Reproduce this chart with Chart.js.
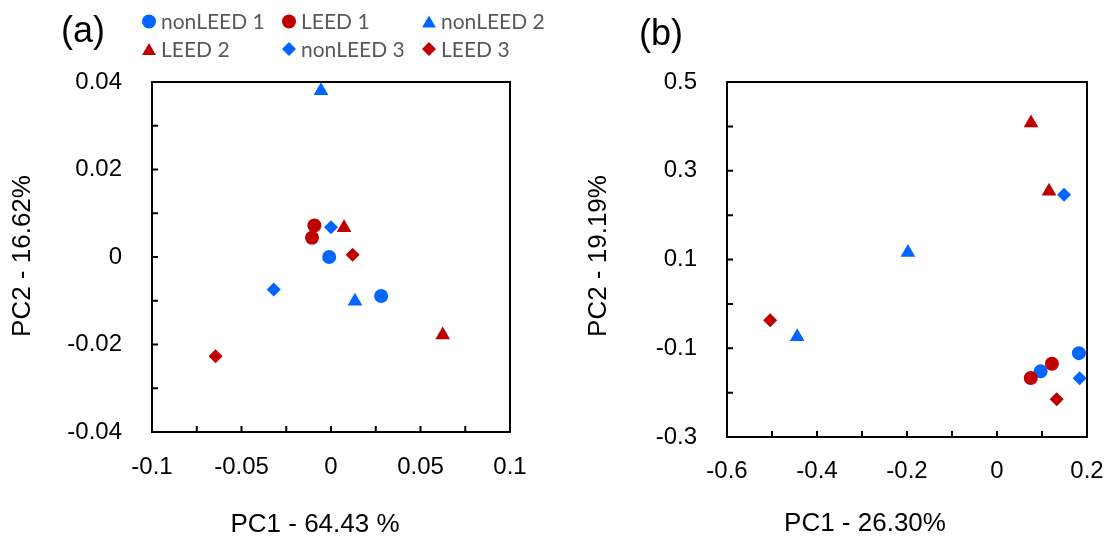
<!DOCTYPE html>
<html>
<head>
<meta charset="utf-8">
<script src="https://cdn.jsdelivr.net/npm/chart.js@4.4.1/dist/chart.umd.min.js"></script>
<style>
  html, body { margin: 0; padding: 0; background: #fff; }
  #wrap { position: relative; width: 1108px; height: 537px; }
  .painel { position: absolute; top: 0; width: 554px; height: 537px; }
</style>
</head>
<body>
<div id="wrap">
  <div class="painel" style="left:0"><canvas id="graficoA"></canvas></div>
  <div class="painel" style="left:554px"><canvas id="graficoB"></canvas></div>
</div>
<script>
const series = ['nonLEED 1', 'LEED 1', 'nonLEED 2', 'LEED 2', 'nonLEED 3', 'LEED 3'];
const coresSerie = ['#0066FF', '#C00000', '#0066FF', '#C00000', '#0066FF', '#C00000'];
const formas = ['circle', 'circle', 'triangle', 'triangle', 'rectRot', 'rectRot'];

// painel (a): PC1 / PC2, dois pontos por serie
const pc1A = [[-0.001, 0.028], [-0.0093, -0.0106], [-0.0056, 0.0134], [0.0073, 0.0624], [0.0, -0.032], [0.0121, -0.0645]];
const pc2A = [[0.0, -0.0089], [0.0072, 0.0044], [0.0380, -0.0101], [0.0067, -0.0178], [0.0068, -0.0074], [0.0005, -0.0227]];

// painel (b)
const pc1B = [[0.182, 0.097], [0.122, 0.075], [-0.198, -0.444], [0.0756, 0.1156], [0.149, 0.1836], [-0.504, 0.1326]];
const pc2B = [[-0.111, -0.152], [-0.135, -0.167], [0.1155, -0.074], [0.4075, 0.254], [0.246, -0.1676], [-0.037, -0.215]];

const rotulosXA = [-0.1, -0.05, 0, 0.05, 0.1];
const rotulosYA = [-0.04, -0.02, 0, 0.02, 0.04];
const rotulosXB = [-0.6, -0.4, -0.2, 0, 0.2];
const rotulosYB = [-0.3, -0.1, 0.1, 0.3, 0.5];

const FONTE = "'Liberation Sans', Arial, sans-serif";

function raioPorForma(f) {
  if (f === 'triangle') return 8.5;
  return 7;
}

function montarDatasets(pc1, pc2) {
  return series.map((nome, i) => ({
    label: nome,
    data: pc1[i].map((x, k) => ({ x: x, y: pc2[i][k] })),
    pointStyle: formas[i],
    pointRadius: raioPorForma(formas[i]),
    pointHoverRadius: raioPorForma(formas[i]),
    backgroundColor: coresSerie[i],
    borderColor: coresSerie[i],
    borderWidth: 0,
    showLine: false,
    order: series.length - i
  }));
}

function rotuloDe(lista) {
  return value => {
    const r = lista.find(v => Math.abs(v - value) < 1e-9);
    return r === undefined ? '' : String(r);
  };
}

// desenha um marcador igual ao do Chart.js
function marcador(ctx, forma, x, y, r, cor) {
  ctx.save();
  ctx.fillStyle = cor;
  ctx.beginPath();
  if (forma === 'circle') {
    ctx.arc(x, y, r, 0, Math.PI * 2);
  } else if (forma === 'triangle') {
    let a = 0;
    ctx.moveTo(x + Math.sin(a) * r, y - Math.cos(a) * r);
    a += Math.PI * 2 / 3;
    ctx.lineTo(x + Math.sin(a) * r, y - Math.cos(a) * r);
    a += Math.PI * 2 / 3;
    ctx.lineTo(x + Math.sin(a) * r, y - Math.cos(a) * r);
  } else {
    ctx.moveTo(x - r, y);
    ctx.lineTo(x, y - r);
    ctx.lineTo(x + r, y);
    ctx.lineTo(x, y + r);
  }
  ctx.closePath();
  ctx.fill();
  ctx.restore();
}

const moldura = {
  id: 'moldura',
  beforeDatasetsDraw(chart) {
    const { ctx, chartArea: a } = chart;
    ctx.save();
    ctx.strokeStyle = '#000';
    ctx.lineWidth = 2;
    ctx.strokeRect(a.left, a.top, a.right - a.left, a.bottom - a.top);
    // marcas para dentro
    const xs = chart.scales.x, ys = chart.scales.y;
    ctx.beginPath();
    xs.ticks.forEach((t, i) => {
      const p = xs.getPixelForTick(i);
      if (p - a.left < 2 || a.right - p < 2) return;
      ctx.moveTo(p, a.bottom);
      ctx.lineTo(p, a.bottom - 6);
    });
    ys.ticks.forEach((t, i) => {
      const p = ys.getPixelForTick(i);
      if (p - a.top < 2 || a.bottom - p < 2) return;
      ctx.moveTo(a.left, p);
      ctx.lineTo(a.left + 6, p);
    });
    ctx.stroke();
    ctx.restore();
  }
};

const textos = {
  id: 'textos',
  afterDraw(chart, args, opts) {
    const ctx = chart.ctx;
    (opts.itens || []).forEach(it => {
      ctx.save();
      ctx.translate(it.x, it.y);
      if (it.rot) ctx.rotate(it.rot);
      ctx.font = it.font;
      ctx.fillStyle = it.cor || '#000';
      ctx.textAlign = 'center';
      ctx.textBaseline = 'middle';
      ctx.fillText(it.t, 0, 0);
      ctx.restore();
    });
    if (opts.legenda) {
      const colunas = [149, 289, 429];
      const linhas = [21.5, 49];
      series.forEach((nome, i) => {
        const cx = colunas[i % 3], cy = linhas[Math.floor(i / 3)];
        const forma = formas[i];
        const dy = forma === 'triangle' ? 2 : 0;
        marcador(ctx, forma, cx, cy + dy, forma === 'triangle' ? 8 : 7, coresSerie[i]);
        ctx.save();
        ctx.font = "21px Lato, 'Open Sans', sans-serif";
        ctx.fillStyle = '#595959';
        ctx.textAlign = 'left';
        ctx.textBaseline = 'middle';
        ctx.fillText(nome, cx + 12, cy + 1);
        ctx.restore();
      });
    }
  }
};

function criarGrafico(id, pc1, pc2, rotX, rotY, passoX, passoY, cfg) {
  const ctx = document.getElementById(id).getContext('2d');
  return new Chart(ctx, {
    type: 'scatter',
    data: { datasets: montarDatasets(pc1, pc2) },
    options: {
      responsive: true,
      maintainAspectRatio: false,
      animation: false,
      events: [],
      layout: { padding: { left: 0, top: cfg.topo, right: cfg.direita, bottom: 0 } },
      scales: {
        x: {
          type: 'linear',
          min: rotX[0],
          max: rotX[rotX.length - 1],
          grid: { display: false },
          border: { display: false },
          ticks: {
            stepSize: passoX,
            autoSkip: false,
            maxRotation: 0,
            padding: cfg.padX,
            color: '#000',
            font: { family: FONTE, size: 24 },
            callback: rotuloDe(rotX)
          },
          afterFit: s => { s.height = cfg.alturaX; s.paddingLeft = 0; s.paddingRight = 0; }
        },
        y: {
          type: 'linear',
          min: rotY[0],
          max: rotY[rotY.length - 1],
          grid: { display: false },
          border: { display: false },
          ticks: {
            stepSize: passoY,
            autoSkip: false,
            padding: 22,
            color: '#000',
            font: { family: FONTE, size: 24 },
            callback: rotuloDe(rotY)
          },
          afterFit: s => { s.width = cfg.larguraY; s.paddingTop = 0; s.paddingBottom = 0; }
        }
      },
      plugins: {
        legend: { display: false },
        tooltip: { enabled: false },
        textos: { itens: cfg.itens, legenda: cfg.legenda }
      }
    },
    plugins: [moldura, textos]
  });
}

document.addEventListener('DOMContentLoaded', () => {
  criarGrafico('graficoA', pc1A, pc2A, rotulosXA, rotulosYA, 0.025, 0.01, {
    topo: 82, direita: 44, alturaX: 105, larguraY: 152, padX: 13, legenda: true,
    itens: [
      { t: '(a)', x: 83, y: 32, font: '36px ' + FONTE },
      { t: 'PC1 - 64.43 %', x: 315, y: 525, font: '26px ' + FONTE },
      { t: 'PC2 - 16.62%', x: 23, y: 256, rot: -Math.PI / 2, font: '26px ' + FONTE }
    ]
  });
  criarGrafico('graficoB', pc1B, pc2B, rotulosXB, rotulosYB, 0.1, 0.1, {
    topo: 82, direita: 21, alturaX: 100, larguraY: 173, padX: 12, legenda: false,
    itens: [
      { t: '(b)', x: 107, y: 35, font: '36px ' + FONTE },
      { t: 'PC1 - 26.30%', x: 311, y: 524, font: '26px ' + FONTE },
      { t: 'PC2 - 19.19%', x: 45, y: 256, rot: -Math.PI / 2, font: '26px ' + FONTE }
    ]
  });
});
</script>
</body>
</html>
